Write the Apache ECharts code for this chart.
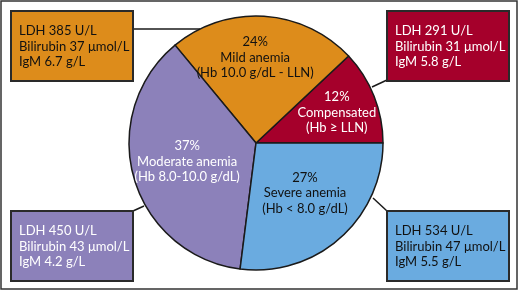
<!DOCTYPE html>
<html>
<head>
<meta charset="utf-8">
<script src="https://cdn.jsdelivr.net/npm/echarts@6/dist/echarts.min.js"></script>
<style>
  html, body { margin: 0; padding: 0; background: #fff; }
  #chart { width: 520px; height: 291px; }
</style>
</head>
<body>
<div id="chart"></div>
<script>
// 数据
var categories = ['Compensated', 'Mild anemia', 'Moderate anemia', 'Severe anemia'];
var shares = [12, 24, 37, 27];
var hbRanges = ['(Hb \u2265 LLN)', '(Hb 10.0 g/dL - LLN)', '(Hb 8.0-10.0 g/dL)', '(Hb < 8.0 g/dL)'];
var ldh = [291, 385, 450, 534];
var bilirubin = [31, 37, 43, 47];
var igm = ['5.8', '6.7', '4.2', '5.5'];

// 样式
const FONT = 'Lato, "Open Sans", sans-serif';
const COLORS = ['#A5002B', '#DD8C1B', '#8C81BA', '#6AABE0'];
const TEXT_COLORS = ['#fff', '#111', '#fff', '#111'];
const LABEL_OFFSETS = [[19, -6], [-5, -19], [-5, 0], [5, 0]];
const CENTER = [256, 143];
const RADIUS = 127;

// 注释框 [x, y] 与连接线
const BOX_W = 122;
const BOX_H = 70;
const BOX_POS = [[387, 11], [11, 11], [11, 211], [387, 211]];
const LINKS = [[387, 80, 372, 87], [133, 29, 200, 29], [133, 211, 144, 206], [387, 211, 373, 198]];

var pieData = categories.map(function (name, i) {
    return {
        name: name,
        value: shares[i],
        itemStyle: { color: COLORS[i] },
        label: { color: TEXT_COLORS[i], offset: LABEL_OFFSETS[i] }
    };
});

var graphic = [{
    type: 'rect',
    shape: { x: 1, y: 1, width: 516, height: 288 },
    style: { fill: 'none', stroke: '#333', lineWidth: 1.5 },
    silent: true
}];

categories.forEach(function (name, i) {
    var p = BOX_POS[i];
    var l = LINKS[i];
    graphic.push({
        type: 'line',
        shape: { x1: l[0], y1: l[1], x2: l[2], y2: l[3] },
        style: { stroke: '#1a1a1a', lineWidth: 1.5 },
        z: 10
    });
    graphic.push({
        type: 'rect',
        shape: { x: p[0], y: p[1], width: BOX_W, height: BOX_H },
        style: { fill: COLORS[i], stroke: '#2a2a2a', lineWidth: 2 },
        z: 10
    });
    graphic.push({
        type: 'text',
        x: p[0] + 8,
        y: p[1] + BOX_H / 2 + 0.5,
        style: {
            text: 'LDH ' + ldh[i] + ' U/L\nBilirubin ' + bilirubin[i] + ' \u03bcmol/L\nIgM ' + igm[i] + ' g/L',
            font: '13px ' + FONT,
            fill: TEXT_COLORS[i],
            lineHeight: 15.5,
            textAlign: 'left',
            textVerticalAlign: 'middle'
        },
        z: 11
    });
});

var myChart = echarts.init(document.getElementById('chart'));
myChart.setOption({
    animation: false,
    series: [{
        type: 'pie',
        center: CENTER,
        radius: RADIUS,
        startAngle: 0,
        clockwise: false,
        silent: true,
        itemStyle: { borderColor: '#1a1a1a', borderWidth: 1.5 },
        label: {
            show: true,
            position: 'inside',
            fontFamily: FONT,
            fontSize: 13,
            lineHeight: 15.5,
            align: 'center',
            formatter: function (p) {
                return p.value + '%\n' + p.name + '\n' + hbRanges[p.dataIndex];
            }
        },
        labelLine: { show: false },
        data: pieData
    }],
    graphic: graphic
});
</script>
</body>
</html>
